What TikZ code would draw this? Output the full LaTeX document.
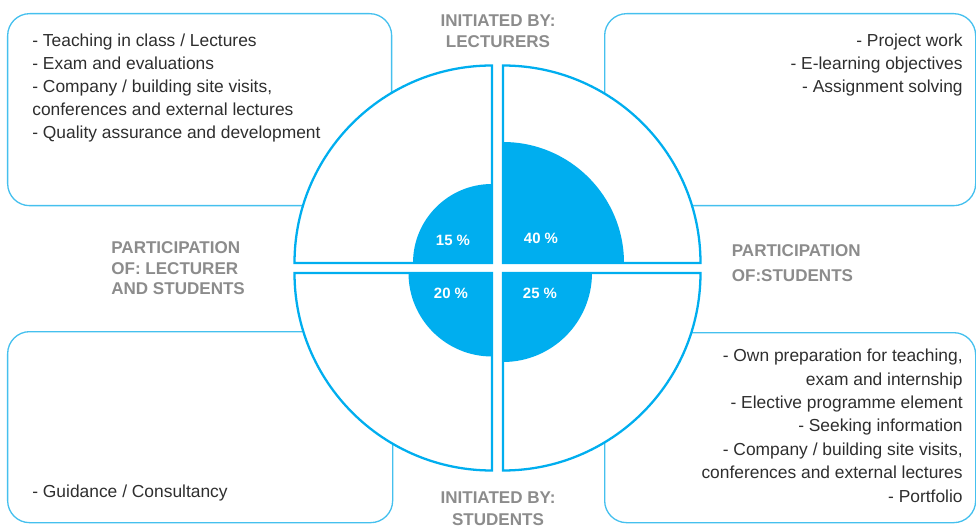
\documentclass[tikz,border=0pt]{standalone}
\usepackage{fontspec}
\setmainfont{Liberation Sans}
\usetikzlibrary{positioning}
\definecolor{ringblaa}{HTML}{00AEEF}
\definecolor{kasseblaa}{HTML}{45C0EE}
\definecolor{graatekst}{HTML}{8C8C8C}
\definecolor{broedtekst}{HTML}{2E2E2E}

\begin{document}
\begin{tikzpicture}[font=\fontsize{9.9}{13.1}\selectfont]
\tikzset{
    %Define style for the outer boxes
    kasse/.style={
           rectangle,
           rounded corners=0.44cm,
           draw=kasseblaa, line width=0.75pt,
           inner sep=0pt,
           anchor=north west,
           },
    % Define style for the quarter discs
    kvart/.style={
           draw=ringblaa, fill=white,
           line width=1.3pt,
           },
    kjerne/.style={
           fill=ringblaa,
           },
    % Define text styles
    tekst/.style={
           text=broedtekst,
           inner sep=0pt,
           },
    merke/.style={
           text=graatekst,
           font=\fontsize{9.7}{12.5}\selectfont\bfseries,
           inner sep=0pt,
           },
    prosent/.style={
           text=white,
           font=\fontsize{8.5}{10}\selectfont\bfseries,
           inner sep=0pt,
           }
}
	\useasboundingbox (-9.95,-5.18) rectangle (9.57,5.36);
	\coordinate (midt) at (0,0);
 %boxes

	\node[kasse,minimum width=7.68cm,minimum height=3.84cm,shift={(-9.81cm,5.10cm)}] (vo) at (midt) {};
	\node[kasse,minimum width=7.42cm,minimum height=3.84cm,shift={(2.13cm,5.10cm)}] (ho) at (midt) {};
	\node[kasse,minimum width=7.70cm,minimum height=3.82cm,shift={(-9.81cm,-1.26cm)}] (vn) at (midt) {};
	\node[kasse,minimum width=7.42cm,minimum height=3.80cm,shift={(2.13cm,-1.28cm)}] (hn) at (midt) {};

 %quarters
	\coordinate[shift={(-0.11cm,0.1cm)}] (hjvo) at (midt);
	\coordinate[shift={(0.11cm,0.1cm)}] (hjho) at (midt);
	\coordinate[shift={(-0.11cm,-0.1cm)}] (hjvn) at (midt);
	\coordinate[shift={(0.11cm,-0.1cm)}] (hjhn) at (midt);

	\filldraw[kvart] (hjvo) -- ++(180:3.95) arc (180:90:3.95) -- cycle;
	\filldraw[kvart] (hjho) -- ++(0:3.95) arc (0:90:3.95) -- cycle;
	\filldraw[kvart] (hjvn) -- ++(180:3.95) arc (180:270:3.95) -- cycle;
	\filldraw[kvart] (hjhn) -- ++(0:3.95) arc (0:-90:3.95) -- cycle;

	\fill[kjerne] (hjvo) -- ++(180:1.58) arc (180:90:1.58) -- cycle;
	\fill[kjerne] (hjho) -- ++(0:2.42) arc (0:90:2.42) -- cycle;
	\fill[kjerne] (hjvn) -- ++(180:1.67) arc (180:270:1.67) -- cycle;
	\fill[kjerne] (hjhn) -- ++(0:1.78) arc (0:-90:1.78) -- cycle;

 %percentages
	\node[prosent,shift={(-0.89cm,0.56cm)}] (p15) at (midt) {15 \%};
	\node[prosent,shift={(0.87cm,0.60cm)}] (p40) at (midt) {40 \%};
	\node[prosent,shift={(-0.93cm,-0.50cm)}] (p20) at (midt) {20 \%};
	\node[prosent,shift={(0.85cm,-0.50cm)}] (p25) at (midt) {25 \%};

 %grey labels (base = last line)
	\node[merke,align=center,anchor=base,shift={(0.01cm,4.40cm)}] (initforeleser) at (midt) {INITIATED BY:\\LECTURERS};
	\node[merke,align=center,anchor=base,shift={(0.01cm,-5.14cm)}] (initstudent) at (midt) {INITIATED BY:\\STUDENTS};
	\node[merke,align=left,anchor=base west,font=\fontsize{9.7}{11.9}\selectfont\bfseries,shift={(-7.73cm,-0.54cm)}] (delbegge) at (midt) {PARTICIPATION\\OF: LECTURER\\AND STUDENTS};
	\node[merke,align=left,anchor=base west,font=\fontsize{9.7}{14}\selectfont\bfseries,shift={(4.68cm,-0.27cm)}] (delstudent) at (midt) {PARTICIPATION\\OF:STUDENTS};

 %box texts
	\node[tekst,align=left,anchor=base west,shift={(-9.31cm,2.58cm)}] (votekst) at (midt) {- Teaching in class / Lectures\\- Exam and evaluations\\- Company / building site visits,\\conferences and external lectures\\- Quality assurance and development};
	\node[tekst,align=right,anchor=base east,shift={(9.31cm,3.50cm)}] (hotekst) at (midt) {- Project work\\- E-learning objectives\\- Assignment solving};
	\node[tekst,align=right,anchor=base east,font=\fontsize{9.9}{13.3}\selectfont,shift={(9.31cm,-4.68cm)}] (hntekst) at (midt) {- Own preparation for teaching,\\exam and internship\\- Elective programme element\\- Seeking information\\- Company / building site visits,\\conferences and external lectures\\- Portfolio};
	\node[tekst,align=left,anchor=base west,shift={(-9.31cm,-4.58cm)}] (vntekst) at (midt) {- Guidance / Consultancy};

\end{tikzpicture}
\end{document}
